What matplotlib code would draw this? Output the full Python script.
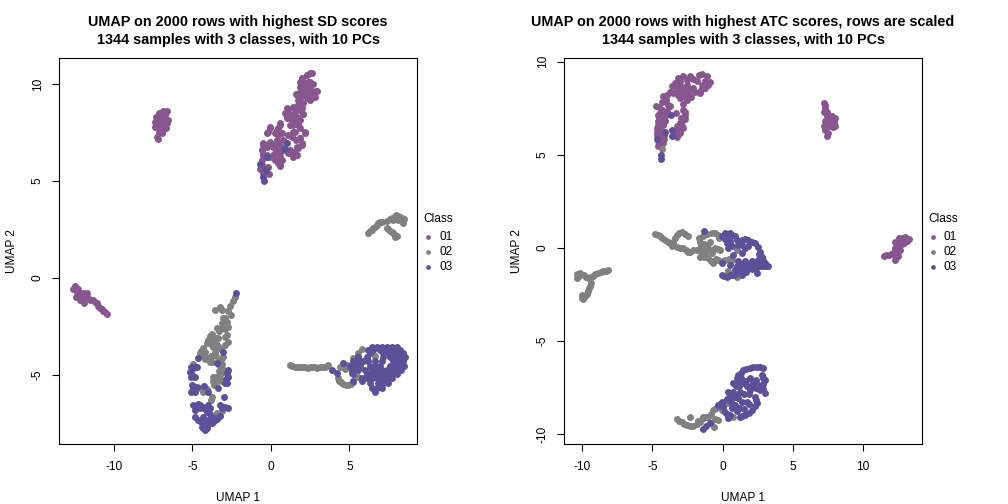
import matplotlib
matplotlib.use('Agg')
import matplotlib.pyplot as plt
from matplotlib.lines import Line2D

plt.rcParams['font.family'] = ['Liberation Sans', 'DejaVu Sans']
plt.rcParams['axes.unicode_minus'] = False

classes = ['01', '02', '03']
class_colors = ['#88568f', '#808080', '#5e4f99']

title_sd = 'UMAP on 2000 rows with highest SD scores\n1344 samples with 3 classes, with 10 PCs'
title_atc = 'UMAP on 2000 rows with highest ATC scores, rows are scaled\n1344 samples with 3 classes, with 10 PCs'

# left panel
sd_01 = [
    (2.48,10.55),(2.27,10.45),(1.95,10.3),(1.85,10.1),(1.85,9.86),(2.15,10.03),(2.48,10.1),(2.7,9.98),(2.4,9.78),(2.05,9.78),
    (1.85,9.6),(1.6,9.48),(1.9,9.45),(2.2,9.52),(2.5,9.6),(2.85,9.65),(2.65,9.35),(2.3,9.26),(1.85,9.26),(1.75,9.15),
    (1.75,8.9),(1.55,8.75),(1.95,8.75),(1.1,8.67),(1.32,8.4),(2.05,8.45),(1.65,8.3),(1.0,8.3),(1.42,8.05),(1.85,8.15),
    (1.2,7.9),(0.57,8.0),(0.47,7.72),(0.68,7.46),(0.36,7.55),(-0.06,7.8),(-0.17,7.5),(1.75,7.9),(1.42,7.55),(1.1,7.35),
    (2.15,7.55),(1.85,7.2),(1.6,7.1),(0.79,7.11),(0.36,6.94),(-0.06,6.94),(-0.49,6.85),(-0.6,6.6),(-0.28,6.85),(0.15,6.77),
    (0.47,6.94),(0.68,6.73),(1.95,6.85),(1.75,6.68),(1.53,6.5),(1.21,6.43),(1.42,6.25),(1.63,6.33),(0.57,6.25),(0.15,6.33),
    (-0.28,6.33),(-0.53,6.33),(0.68,6.08),(0.47,5.91),(0.57,5.77),(1.21,6.6),(0.26,6.08),(-0.6,6.08),(-0.6,5.82),(-0.7,5.6),
    (-0.45,5.7),(-0.17,5.74),(-0.49,5.4),(-0.1,5.37),
    (2.59,10.55),(2.27,10.46),(1.95,10.29),(1.95,10.03),(2.38,10.12),(2.27,9.69),(2.59,9.64),(2.91,9.64),(2.8,9.35),(2.48,9.18),
    (2.17,9.43),(1.85,9.52),(1.63,9.43),(2.06,9.0),(1.74,8.92),(1.42,8.83),(1.0,8.75),(0.89,8.49),(1.21,8.4),(1.53,8.57),
    (1.85,8.66),(2.06,8.44),(1.63,8.23),(1.32,8.14),(1.0,8.23),(1.42,7.89),(1.74,7.97),(1.85,7.71),(1.53,7.54),(1.32,7.29),
    (0.57,7.89),(0.36,7.63),(0.25,7.46),(0.47,7.37),(-0.06,7.71),(-0.28,7.46),(2.17,7.46),(1.85,7.2),(1.95,6.94),(1.63,6.77),
    (1.42,6.48),(1.1,6.43),(0.89,6.6),(0.36,7.11),(-0.06,7.03),(-0.49,6.94),(-0.59,6.6),(-0.28,6.77),(0.15,6.86),(0.47,6.68),
    (0.57,6.43),(0.25,6.43),(-0.06,6.25),(-0.49,6.34),(0.36,6.08),(0.57,5.82),
    (-6.6,8.62),(-6.9,8.6),(-7.15,8.5),(-7.3,8.3),(-6.75,8.4),(-7.0,8.2),(-6.6,8.0),(-7.4,8.05),(-7.2,7.95),(-6.85,7.9),
    (-7.4,7.8),(-7.05,7.7),(-6.7,7.75),(-7.1,7.5),(-6.95,7.45),(-7.25,7.25),(-7.2,7.15),(-6.55,8.15),
    (-6.9,8.35),(-7.1,8.35),(-6.75,8.15),(-7.15,8.1),(-6.95,8.05),(-6.85,7.65),(-7.0,7.95),
    (-12.48,-0.41),(-12.63,-0.58),(-12.38,-0.7),(-12.42,-0.96),(-12.17,-1.13),(-11.91,-1.27),(-11.95,-0.79),(-11.74,-0.79),
    (-11.63,-1.05),(-11.32,-1.13),(-11.1,-1.31),(-10.89,-1.56),(-10.68,-1.68),(-10.42,-1.87),(-12.17,-0.88),
    (-12.3,-0.55),(-12.1,-0.9),(-11.85,-1.0),(-11.5,-1.15),(-11.2,-1.22),(-11.0,-1.43),(-10.78,-1.62),(-10.55,-1.78),(-12.0,-1.1),
]
sd_02 = [
    (6.2,2.34),(6.41,2.47),(6.62,2.65),(6.84,2.82),(7.05,2.89),(7.41,2.96),(7.69,3.08),(7.96,3.25),(8.22,3.13),(8.47,3.02),
    (8.43,2.85),(7.79,2.99),(7.37,2.59),(7.58,2.44),(7.79,2.3),(8.05,2.16),(7.9,2.13),
    (6.3,2.4),(6.52,2.56),(6.73,2.74),(6.95,2.86),(7.55,3.02),(7.83,3.15),(8.1,3.2),(8.35,3.08),(8.1,3.0),(7.47,2.52),(7.68,2.38),(7.92,2.22),
    (-2.29,-0.96),(-2.44,-1.17),(-2.61,-1.44),(-2.72,-1.68),(-2.57,-1.91),(-3.57,-1.65),(-3.25,-1.51),(-3.14,-1.65),(-3.04,-2.08),
    (-2.82,-2.25),(-3.14,-2.34),(-2.72,-2.51),(-3.04,-2.59),(-3.46,-2.59),(-2.82,-2.94),(-3.78,-2.89),(-3.99,-3.2),(-3.67,-3.2),
    (-3.35,-3.11),(-2.72,-3.32),(-2.93,-3.45),(-3.46,-3.57),(-4.1,-3.33),(-3.67,-3.57),(-4.31,-3.63),(-4.52,-3.85),(-3.57,-3.8),
    (-4.35,-3.97),(-3.04,-4.09),(-3.99,-4.14),(-3.78,-4.31),(-3.25,-4.23),(-3.29,-4.48),(-3.04,-4.83),(-3.25,-5.0),(-3.72,-5.09),
    (-3.46,-5.26),(-3.14,-5.29),(-3.63,-5.52),(-4.95,-4.43),(-4.31,-5.86),(-3.78,-6.12),(-3.84,-6.29),(-3.46,-6.94),(-3.14,-6.86),
    (-2.9,-2.05),(-3.2,-2.6),(-2.9,-2.65),(-3.3,-2.75),(-2.9,-3.05),(-3.9,-3.0),(-3.5,-3.1),(-3.8,-3.4),(-3.5,-3.35),(-3.35,-3.5),
    (-3.2,-3.65),(-4.45,-3.75),(-4.2,-3.8),(-3.85,-4.0),(-4.2,-4.2),(-3.9,-4.35),(-3.5,-4.0),(-3.15,-4.15),(-3.15,-4.45),(-3.1,-4.65),
    (-3.3,-4.8),(-3.5,-5.1),(-3.3,-5.2),(-3.5,-5.4),(-3.7,-5.3),(-4.1,-5.75),(-4.5,-5.65),
    (1.21,-4.48),(1.53,-4.6),(1.85,-4.57),(2.17,-4.6),(2.48,-4.57),(2.8,-4.6),(3.12,-4.6),(3.44,-4.6),(3.65,-4.48),
    (1.37,-4.52),(1.7,-4.6),(2.0,-4.6),(2.33,-4.62),(2.64,-4.6),(2.95,-4.62),(3.28,-4.6),(3.55,-4.55),
    (4.39,-4.57),(4.82,-4.48),(4.29,-5.17),(4.61,-5.46),(4.93,-5.52),(5.24,-5.34),(5.56,-5.09),(4.71,-4.71),(5.24,-4.11),
    (5.77,-3.68),(5.56,-3.88),(6.62,-4.02),(5.14,-4.83),(4.45,-5.35),(4.77,-5.5),(5.1,-5.45),(4.33,-5.32),
]
sd_03 = [
    (1.0,6.94),(0.89,6.63),(-0.23,6.22),(-0.32,5.57),(-0.49,5.22),(-0.45,5.02),(-0.7,5.88),
    (-2.23,-0.79),(-3.08,-3.8),(-4.63,-4.14),(-5.12,-4.57),(-4.73,-4.6),(-5.16,-4.83),(-4.84,-5.12),(-5.12,-5.12),(-2.72,-4.74),
    (-2.72,-5.09),(-2.82,-5.4),(-3.35,-5.69),(-5.05,-5.52),(-4.73,-5.6),(-5.12,-5.86),(-4.84,-5.86),(-4.27,-5.57),(-3.99,-5.86),
    (-2.99,-6.15),(-4.95,-6.55),(-4.63,-6.49),(-4.31,-6.63),(-3.99,-6.55),(-3.25,-6.55),(-2.93,-6.63),(-2.72,-6.72),(-4.84,-6.8),
    (-4.52,-6.72),(-4.1,-6.89),(-3.89,-7.01),(-3.25,-7.11),(-4.84,-7.15),(-4.63,-7.32),(-4.31,-7.15),(-3.99,-7.32),(-4.42,-7.49),
    (-4.1,-7.58),(-4.2,-7.84),(-3.78,-7.49),(-3.46,-7.28),(-4.42,-7.66),(-3.46,-4.4),
    (-4.73,-6.6),(-4.52,-6.55),(-4.2,-6.75),(-3.9,-6.7),(-3.1,-6.7),(-4.5,-7.4),(-4.2,-7.35),(-4.3,-7.55),(-3.95,-7.45),(-3.65,-7.4),
    (-4.05,-7.75),(-4.3,-7.75),(-3.6,-7.2),(-4.95,-5.55),(-4.95,-5.75),(-5.0,-4.7),(-4.85,-4.6),(-5.05,-5.0),(-2.78,-4.9),(-2.85,-5.2),(-2.95,-5.4),
    (3.86,-4.74),(4.18,-4.88),(4.61,-4.36),(5.56,-4.05),(5.24,-4.57),(5.14,-4.91),(5.24,-5.29),(5.77,-5.29),
    (6.41,-3.54),(6.73,-3.54),(7.05,-3.54),(7.37,-3.54),(7.69,-3.54),(8.0,-3.54),
    (6.2,-3.71),(6.52,-3.71),(6.94,-3.71),(7.26,-3.71),(7.58,-3.71),(7.9,-3.71),(8.22,-3.71),
    (6.31,-3.88),(7.16,-3.88),(7.47,-3.88),(7.79,-3.88),(8.11,-3.88),(8.43,-3.88),
    (5.56,-4.05),(6.09,-4.05),(7.16,-4.05),(7.58,-4.05),(7.9,-4.05),(8.22,-4.05),(8.54,-4.05),
    (5.24,-4.28),(5.56,-4.28),(5.88,-4.28),(6.2,-4.28),(6.62,-4.28),(7.05,-4.28),(7.79,-4.28),(8.11,-4.28),(8.43,-4.28),
    (5.03,-4.52),(5.35,-4.52),(5.67,-4.52),(6.31,-4.52),(6.62,-4.52),(6.94,-4.52),(7.58,-4.52),(7.9,-4.52),(8.22,-4.52),(8.47,-4.52),
    (5.14,-4.74),(5.56,-4.74),(5.99,-4.74),(6.41,-4.74),(6.73,-4.74),(7.05,-4.74),(7.37,-4.74),(7.69,-4.74),(8.0,-4.74),(8.26,-4.74),
    (5.24,-4.97),(6.09,-4.97),(6.41,-4.97),(6.73,-4.97),(7.05,-4.97),(7.37,-4.97),(7.69,-4.97),(8.0,-4.97),
    (5.77,-5.17),(6.09,-5.17),(6.41,-5.17),(6.73,-5.17),(7.05,-5.17),(7.37,-5.17),(7.69,-5.17),
    (6.31,-5.43),(6.84,-5.43),(7.16,-5.43),(7.47,-5.43),
    (6.41,-5.69),(6.73,-5.69),(7.05,-5.69),(6.62,-5.86),
]

# right panel
atc_01 = [
    (-1.48,9.35),(-1.13,9.25),(-0.89,8.89),(-1.25,8.58),(-1.6,8.32),(-1.84,8.94),(-1.48,8.76),(-2.32,9.21),(-2.79,9.21),(-3.15,9.12),
    (-3.38,8.85),(-3.62,8.67),(-3.03,8.76),(-2.55,8.76),(-2.08,8.58),(-2.43,8.32),(-2.91,8.32),(-3.27,8.49),(-3.74,8.4),(-3.98,8.23),
    (-4.22,8.14),(-2.55,7.96),(-3.03,8.05),(-4.1,7.87),(-4.76,7.63),(-4.33,7.42),(-3.74,7.6),(-2.79,7.42),(-2.67,7.15),(-4.57,7.15),
    (-4.1,7.06),(-2.79,6.88),(-3.03,6.7),(-3.27,6.52),(-2.79,6.43),(-4.57,6.79),(-4.22,6.61),(-4.69,6.43),(-4.33,6.25),(-3.03,6.16),
    (-3.27,5.95),(-4.69,6.08),(-4.33,5.81),(-4.57,5.45),(-4.22,5.63),(-4.57,5.72),
    (-3.0,8.95),(-2.55,9.0),(-2.1,9.05),(-1.7,9.3),(-1.25,8.95),(-1.05,8.75),(-1.5,8.5),(-1.95,8.35),(-2.3,8.55),(-2.75,8.55),
    (-3.05,8.5),(-3.25,8.65),(-2.7,8.1),(-2.25,8.1),(-3.5,8.3),(-3.2,8.2),(-2.85,7.75),
    (-4.0,7.95),(-4.3,7.85),(-4.55,7.55),(-4.45,7.25),(-4.55,6.95),(-4.3,6.95),(-4.4,6.6),(-4.6,6.6),(-4.1,6.8),(-4.5,6.3),
    (-4.65,6.25),(-4.45,6.1),(-4.2,6.05),(-4.45,5.9),(-4.6,5.9),(-4.4,5.55),(-4.15,5.85),(-3.95,7.35),(-3.85,7.65),
    (-2.7,7.3),(-2.65,6.9),(-2.9,6.55),(-3.1,6.35),(-3.2,6.15),(-3.4,6.25),(-2.95,6.95),(-3.35,7.25),
    (7.19,7.78),(7.3,7.51),(7.22,7.3),(7.42,7.06),(7.78,7.06),(8.02,6.97),(7.3,6.79),(7.78,6.7),(7.19,6.52),(8.02,6.52),(7.54,6.6),
    (7.3,6.35),(7.54,6.15),(7.42,6.02),(7.9,6.75),(7.6,6.9),(7.3,7.65),(7.42,7.3),(7.5,6.8),(7.9,6.9),(7.65,6.55),(7.4,6.5),(7.85,6.5),
    (11.46,-0.43),(11.82,-0.38),(12.17,-0.29),(12.29,-0.02),(12.29,0.34),(12.53,0.52),(13.0,0.57),(13.24,0.47),(12.89,0.25),
    (12.53,-0.02),(12.29,-0.68),(12.65,-0.11),(12.29,-0.38),(12.41,0.16),(12.77,0.43),
    (11.65,-0.4),(12.0,-0.35),(12.4,-0.2),(12.45,0.3),(12.75,0.2),(12.8,0.55),(13.1,0.35),(12.6,0.35),(12.5,-0.45),(12.35,-0.55),
]
atc_02 = [
    (-4.33,5.3),
    (-10.39,-1.4),(-10.16,-1.36),(-10.39,-1.63),(-9.85,-1.45),(-9.56,-1.63),(-9.2,-1.51),(-8.85,-1.36),(-8.49,-1.27),(-8.14,-1.18),
    (-9.37,-1.9),(-9.51,-2.17),(-9.68,-2.47),(-9.92,-2.76),(-10.03,-2.53),
    (-10.25,-1.5),(-9.7,-1.55),(-9.4,-1.58),(-9.05,-1.43),(-8.68,-1.32),(-8.3,-1.22),(-9.45,-2.03),(-9.6,-2.33),(-9.8,-2.6),(-10.0,-2.7),
    (-4.81,0.73),(-4.45,0.61),(-4.1,0.43),(-3.74,0.25),(-3.27,0.04),(-3.5,0.34),(-3.27,0.7),(-2.91,0.84),(-2.43,0.66),(-2.79,-0.02),
    (-2.32,-0.2),(-2.08,-0.14),(-3.62,0.11),(-1.6,0.34),(-1.6,-0.02),(-1.37,0.61),(-0.77,0.82),(-0.3,0.7),(-0.89,0.34),(-0.53,-0.02),
    (-0.18,-0.11),(-1.01,-0.02),(-1.25,-0.29),(-1.6,-0.47),(-1.01,-0.56),(-0.65,-0.82),(-0.3,-0.65),(0.18,-0.65),(0.65,-0.65),
    (1.01,-0.14),(0.42,-1.27),(1.01,-1.58),(-1.48,-0.2),(-0.77,-0.29),
    (-4.63,0.67),(-4.28,0.52),(-3.92,0.34),(-3.5,0.14),(-3.05,-0.03),(-3.4,0.55),(-3.1,0.8),(-2.65,0.75),(-2.62,-0.1),(-2.45,-0.2),
    (-1.85,-0.1),(-1.55,0.1),(-1.65,0.55),(-1.55,-0.25),(-1.3,-0.5),(-0.85,-0.7),(-1.35,0.2),(-1.1,0.75),(-0.55,0.8),(-0.25,0.55),
    (-0.7,-0.1),(-0.35,-0.05),(-1.2,-0.1),(-0.45,-0.6),(0.0,-0.72),(0.45,-0.62),
    (-3.27,-9.19),(-2.91,-9.37),(-2.55,-9.52),(-2.08,-9.57),(-1.6,-9.34),(-1.37,-9.07),(-0.3,-9.25),(-0.65,-8.71),(-0.3,-8.53),
    (0.18,-8.26),(0.53,-8.35),(0.77,-9.07),(-0.06,-8.71),(-1.01,-9.07),(-2.32,-9.07),(-0.58,-9.61),
    (-3.1,-9.28),(-2.73,-9.45),(-2.3,-9.57),(-1.85,-9.45),(-1.48,-9.2),(-1.2,-9.1),(-0.8,-8.95),(-0.5,-8.6),(-0.15,-8.4),(-1.75,-9.3),
    (-0.8,-9.4),(-0.55,-9.2),(0.35,-8.35),
]
atc_03 = [
    (-3.67,7.15),(-3.62,6.34),(-3.62,6.02),(-4.1,6.25),(-4.69,5.84),(-4.41,5.0),(-4.41,4.77),
    (-1.32,0.88),(0.18,0.79),(0.53,0.79),(0.89,0.61),(-0.06,0.61),(0.3,0.25),(1.37,0.43),(1.84,0.43),(2.32,0.25),(1.13,0.16),
    (1.6,-0.02),(2.67,-0.2),(2.79,-0.47),(0.77,-0.38),(1.37,-0.29),(2.55,-0.65),(3.27,-0.97),(3.03,-0.82),(1.13,-0.73),(1.6,-0.73),
    (2.08,-0.73),(2.67,-1.0),(2.43,-1.36),(1.48,-1.18),(1.84,-1.09),(0.89,-1.18),(1.37,-1.45),(0.77,-1.45),(-0.06,-1.45),(0.3,-1.58),
    (-0.06,-0.82),(0.53,-0.91),
    (0.35,0.55),(0.7,0.7),(0.2,0.45),(1.6,0.45),(2.1,0.3),(2.5,0.05),(2.6,-0.35),(2.9,-0.65),(2.85,-1.0),(3.1,-0.95),(1.35,-0.85),
    (1.85,-0.9),(2.3,-0.85),(2.4,-1.1),(1.2,-1.0),(1.6,-1.0),(2.1,-1.15),(1.65,-1.3),(1.2,-1.3),(0.55,-1.45),(0.1,-1.52),(0.9,-1.4),
    (1.8,0.1),(0.55,0.35),(1.0,0.4),(1.4,0.15),(0.7,0.1),(0.4,0.0),(1.0,-1.0),(2.65,-0.7),
    (2.91,-6.47),(2.43,-6.38),(1.96,-6.47),(1.48,-6.56),(1.13,-6.83),(2.79,-6.83),(3.03,-7.1),(1.13,-7.19),(1.96,-7.01),(0.77,-7.28),
    (1.48,-7.28),(2.2,-7.28),(2.55,-7.37),(3.03,-7.78),(2.67,-7.63),(0.42,-7.72),(0.77,-7.72),(1.25,-7.72),(1.96,-7.63),(2.32,-7.99),
    (2.43,-8.35),(2.08,-8.71),(1.6,-8.98),(1.25,-9.07),(1.72,-8.26),(1.13,-8.08),(-0.06,-8.26),(-0.3,-8.44),(0.18,-8.8),(0.42,-9.16),
    (-1.37,-9.75),(-0.89,-9.43),(0.89,-8.44),(0.65,-8.62),
    (2.65,-6.42),(2.2,-6.4),(1.7,-6.5),(1.3,-6.7),(1.0,-7.0),(2.85,-7.0),(2.9,-7.3),(1.3,-7.0),(2.4,-7.1),(1.7,-7.15),(0.95,-7.4),
    (1.2,-7.45),(1.75,-7.45),(2.1,-7.45),(2.4,-7.55),(2.85,-7.6),(0.6,-7.8),(1.0,-7.9),(1.5,-7.85),(1.85,-7.85),(2.35,-8.15),(2.3,-8.5),
    (1.9,-8.85),(1.4,-9.05),(0.55,-7.95),(0.3,-8.1),(0.05,-8.55),(0.3,-8.95),(0.55,-9.0),(1.0,-8.75),(-1.2,-9.55),
    (0.9,-8.0),(1.4,-8.3),(0.6,-8.3),(1.15,-8.6),(1.5,-8.65),(1.85,-8.4),
]
panels = [
    (title_sd, (sd_01, sd_02, sd_03), (-13.5, 9.3), (-8.56, 11.34), [-10, -5, 0, 5], [-5, 0, 5, 10], [59, 58, 358, 386]),
    (title_atc, (atc_01, atc_02, atc_03), (-11.29, 14.2), (-10.54, 10.2), [-10, -5, 0, 5, 10], [-10, -5, 0, 5, 10], [564, 58, 358, 386]),
]

W, H = 1008, 504
fig = plt.figure(figsize=(W/100, H/100), dpi=100)

for title, groups, xlim, ylim, xticks, yticks, box in panels:
    left, top, width, height = box
    ax = fig.add_axes([left/W, 1-(top+height)/H, width/W, height/H])
    for pts, col in zip(groups, class_colors):
        xs = [p[0] for p in pts]
        ys = [p[1] for p in pts]
        ax.scatter(xs, ys, s=25, color=col, linewidths=0)
    ax.set_xlim(xlim)
    ax.set_ylim(ylim)
    ax.set_xticks(xticks)
    ax.set_yticks(yticks)
    ax.tick_params(axis='x', length=5, width=0.8, labelsize=8.6, pad=7.5)
    ax.tick_params(axis='y', length=5, width=0.8, labelsize=8.6, pad=6)
    for lab in ax.get_yticklabels():
        lab.set_rotation(90)
        lab.set_va('center')
    ax.set_xlabel('UMAP 1', fontsize=8.6, labelpad=13.5)
    ax.set_ylabel('UMAP 2', fontsize=8.6, labelpad=10)
    ax.set_title(title, fontsize=10.4, fontweight='bold', pad=10, linespacing=1.35)

    # legend to the right of the box
    lx = left + width
    fig.text((lx+6)/W, 1-219/H, 'Class', fontsize=8.6, va='center')
    for cl, col, ly in zip(classes, class_colors, [237, 252, 267]):
        fig.add_artist(Line2D([(lx+11)/W], [1-ly/H], marker='o', markersize=3.4, color=col, linestyle='none', markeredgewidth=0))
        fig.text((lx+22)/W, 1-ly/H, cl, fontsize=8.6, va='center')

fig.savefig('out.png', dpi=100)
